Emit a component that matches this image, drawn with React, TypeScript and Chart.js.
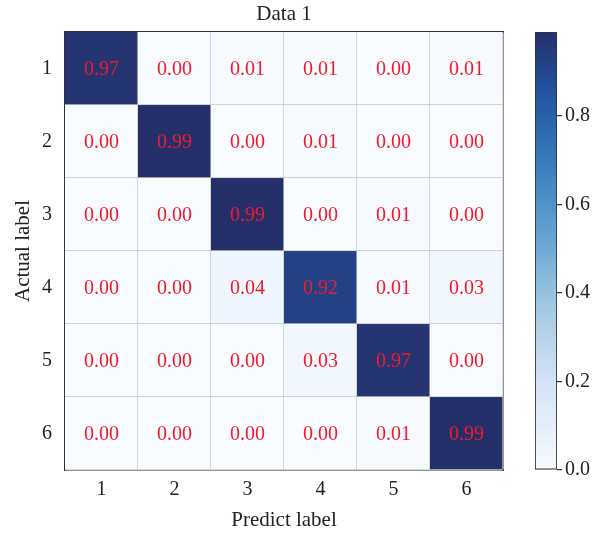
import React, { useEffect, useRef } from "react";
import { Chart, registerables } from "chart.js";

Chart.register(...registerables);

const PREDICT_LABELS = ["1", "2", "3", "4", "5", "6"];
const ACTUAL_LABELS = ["1", "2", "3", "4", "5", "6"];

const row1 = [0.97, 0.0, 0.01, 0.01, 0.0, 0.01];
const row2 = [0.0, 0.99, 0.0, 0.01, 0.0, 0.0];
const row3 = [0.0, 0.0, 0.99, 0.0, 0.01, 0.0];
const row4 = [0.0, 0.0, 0.04, 0.92, 0.01, 0.03];
const row5 = [0.0, 0.0, 0.0, 0.03, 0.97, 0.0];
const row6 = [0.0, 0.0, 0.0, 0.0, 0.01, 0.99];
const ROWS = [row1, row2, row3, row4, row5, row6];

const COLORBAR_TICKS = [0, 0.2, 0.4, 0.6, 0.8];
const VMIN = 0;
const VMAX = 0.99;

const CMAP_STOPS: [number, string][] = [
  [0.0, "#f8fbff"],
  [0.125, "#e0ecf8"],
  [0.25, "#c8dcf0"],
  [0.375, "#a2c8e2"],
  [0.5, "#72aad4"],
  [0.625, "#4b8fc6"],
  [0.75, "#2f70b2"],
  [0.875, "#22509a"],
  [1.0, "#25306a"],
];

const SERIF = "'Liberation Serif', 'Times New Roman', serif";

function hexToRgb(h: string) {
  const n = parseInt(h.slice(1), 16);
  return [(n >> 16) & 255, (n >> 8) & 255, n & 255];
}

function cmap(v: number) {
  let t = (v - VMIN) / (VMAX - VMIN);
  t = Math.max(0, Math.min(1, t));
  for (let i = 1; i < CMAP_STOPS.length; i++) {
    const [t1, c1] = CMAP_STOPS[i];
    const [t0, c0] = CMAP_STOPS[i - 1];
    if (t <= t1) {
      const f = (t - t0) / (t1 - t0);
      const a = hexToRgb(c0);
      const b = hexToRgb(c1);
      const r = a.map((x, k) => Math.round(x + (b[k] - x) * f));
      return `rgb(${r[0]},${r[1]},${r[2]})`;
    }
  }
  return CMAP_STOPS[CMAP_STOPS.length - 1][1];
}

const valueLabelPlugin = {
  id: "valueLabels",
  afterDatasetsDraw(chart: any) {
    const ctx = chart.ctx;
    ctx.save();
    ctx.font = `20px ${SERIF}`;
    ctx.fillStyle = "#f01a30";
    ctx.textAlign = "center";
    ctx.textBaseline = "middle";
    chart.data.datasets.forEach((ds: any, di: number) => {
      const meta = chart.getDatasetMeta(di);
      meta.data.forEach((el: any, i: number) => {
        const p = el.getCenterPoint();
        ctx.fillText(ds.values[i].toFixed(2), p.x, p.y + 1);
      });
    });
    ctx.restore();
  },
};

export default function App() {
  const mainRef = useRef<HTMLCanvasElement>(null);
  const barRef = useRef<HTMLCanvasElement>(null);

  useEffect(() => {
    document.body.style.margin = "0";
    const datasets = ROWS.map((row, r) => ({
      label: ACTUAL_LABELS[r],
      values: row,
      data: row.map(() => [r + 0.5, r + 1.5]),
      backgroundColor: row.map((v) => cmap(v)),
      borderColor: "#c4c4c4",
      borderWidth: { top: 0, left: 0, right: 1, bottom: 1 },
      borderSkipped: false,
      barPercentage: 1,
      categoryPercentage: 1,
      grouped: false,
    }));

    const main = new Chart(mainRef.current!, {
      type: "bar",
      data: { labels: PREDICT_LABELS, datasets: datasets as any },
      options: {
        animation: false,
        responsive: false,
        devicePixelRatio: 1,
        layout: { padding: 0 },
        plugins: { legend: { display: false }, tooltip: { enabled: false }, title: { display: false } },
        scales: {
          x: {
            type: "category",
            position: "bottom",
            z: 1,
            grid: { display: false },
            border: { display: true, color: "#333", width: 1.5 },
            ticks: { font: { family: SERIF, size: 20 }, color: "#222", padding: 0 },
            title: {
              display: true,
              text: "Predict label",
              font: { family: SERIF, size: 21 },
              color: "#222",
              padding: { top: 0, bottom: 1 },
            },
            afterFit: (s: any) => {
              s.height = 64;
            },
          },
          x2: {
            type: "category",
            position: "top",
            z: 1,
            grid: { display: false },
            border: { display: true, color: "#333", width: 1.5 },
            ticks: { display: false },
            title: {
              display: true,
              text: "Data 1",
              font: { family: SERIF, size: 21 },
              color: "#222",
              padding: { top: 2, bottom: 0 },
            },
            afterFit: (s: any) => {
              s.height = 32;
            },
          },
          y: {
            type: "linear",
            position: "left",
            min: 0.5,
            max: 6.5,
            reverse: true,
            z: 1,
            grid: { display: false },
            border: { display: true, color: "#333", width: 1.5 },
            afterBuildTicks: (s: any) => {
              s.ticks = ACTUAL_LABELS.map((_, i) => ({ value: i + 1 }));
            },
            ticks: {
              font: { family: SERIF, size: 20 },
              color: "#222",
              padding: 5,
              callback: (v: any) => ACTUAL_LABELS[Number(v) - 1] ?? "",
            },
            title: {
              display: true,
              text: "Actual label",
              font: { family: SERIF, size: 21 },
              color: "#222",
              padding: 11,
            },
            afterFit: (s: any) => {
              s.width = 65;
            },
          },
          y2: {
            type: "linear",
            position: "right",
            min: 0.5,
            max: 6.5,
            z: 1,
            grid: { display: false },
            border: { display: true, color: "#333", width: 1.5 },
            ticks: { display: false },
            afterFit: (s: any) => {
              s.width = 17;
            },
          },
        },
      },
      plugins: [valueLabelPlugin],
    });

    const bar = new Chart(barRef.current!, {
      type: "bar",
      data: {
        labels: [""],
        datasets: [
          {
            data: [[VMIN, VMAX]] as any,
            backgroundColor: (c: any) => {
              const chart = c.chart;
              if (!chart.chartArea) return "#ffffff";
              const ys = chart.scales.y;
              const y0 = ys.getPixelForValue(VMIN);
              const y1 = ys.getPixelForValue(VMAX);
              const g = chart.ctx.createLinearGradient(0, y0, 0, y1);
              CMAP_STOPS.forEach(([t, col]) => g.addColorStop(t, col));
              return g;
            },
            borderColor: "#333",
            borderWidth: 1.2,
            borderSkipped: false,
            barPercentage: 1,
            categoryPercentage: 1,
          },
        ],
      },
      options: {
        animation: false,
        responsive: false,
        devicePixelRatio: 1,
        layout: { padding: { left: 15, top: 32, bottom: 64, right: 0 } },
        plugins: { legend: { display: false }, tooltip: { enabled: false } },
        scales: {
          x: { display: false },
          y: {
            type: "linear",
            position: "right",
            min: VMIN,
            max: VMAX,
            grid: { display: true, drawOnChartArea: false, drawTicks: true, tickLength: 5, color: "#333", lineWidth: 1.2 },
            border: { display: false },
            afterBuildTicks: (s: any) => {
              s.ticks = COLORBAR_TICKS.map((v) => ({ value: v }));
            },
            ticks: {
              font: { family: SERIF, size: 20 },
              color: "#222",
              padding: 3,
              callback: (v: any) => Number(v).toFixed(1),
            },
            afterFit: (s: any) => {
              s.width = 38;
            },
          },
        },
      },
    });

    return () => {
      main.destroy();
      bar.destroy();
    };
  }, []);

  return (
    <div style={{ position: "fixed", left: 0, top: 0, width: 595, height: 534, background: "#fff" }}>
      <canvas ref={mainRef} width={520} height={534} style={{ position: "absolute", left: 0, top: 0 }} />
      <canvas ref={barRef} width={75} height={534} style={{ position: "absolute", left: 520, top: 0 }} />
    </div>
  );
}
